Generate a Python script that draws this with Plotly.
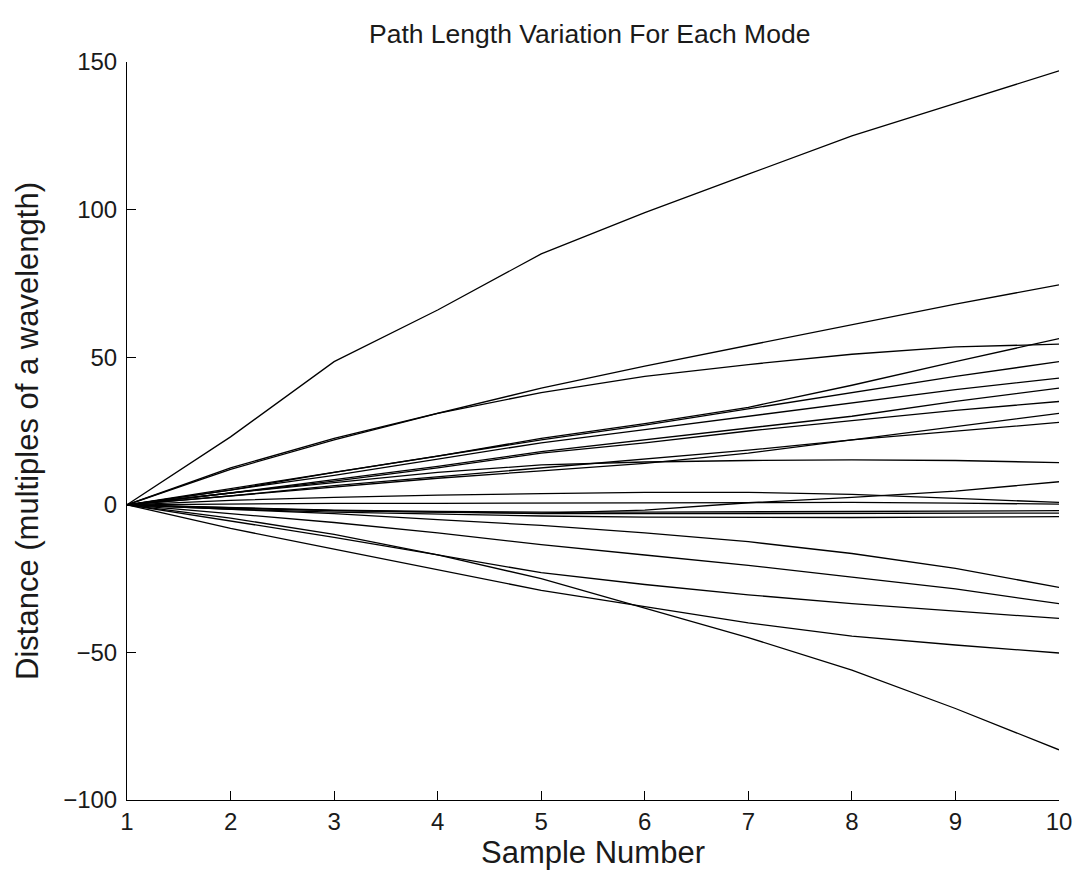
import plotly.graph_objects as go

samples = [1, 2, 3, 4, 5, 6, 7, 8, 9, 10]

mode_A = [0, 23, 48.5, 66, 85, 99, 112, 125, 136, 147]
mode_B = [0, 12.5, 22.5, 31, 39.5, 47, 54, 61, 68, 74.5]
mode_C = [0, 12, 22, 31, 38, 43.5, 47.5, 51, 53.5, 54.4]
mode_D = [0, 5, 11, 16.5, 22.5, 27.5, 33, 40.5, 48.5, 56.3]
mode_E = [0, 5.5, 11, 16.5, 22, 27, 32.5, 38, 43.5, 48.5]
mode_F = [0, 5, 10, 15.5, 21, 25.5, 30, 34.5, 39, 42.9]
mode_G = [0, 4, 8.5, 13, 18, 22, 26, 30, 35, 39.5]
mode_H = [0, 4, 8, 12.5, 17.5, 21, 25, 28.5, 32, 35]
mode_I = [0, 3, 6, 9, 11.5, 14, 17.5, 22, 26.5, 31]
mode_J = [0, 3, 6.5, 9.5, 12.5, 15.5, 18.5, 22, 25, 27.9]
mode_K = [0, 4, 7.5, 11, 13.5, 14.5, 15, 15.2, 15, 14.3]
mode_L = [0, 1.5, 2.5, 3.3, 3.8, 4.2, 4.2, 3.5, 2.2, 0.8]
mode_M = [0, 0.3, 0.5, 0.5, 0.6, 0.6, 0.8, 0.8, 0.6, 0.2]
mode_R = [0, -1, -2, -2.5, -2.8, -1.8, 0.7, 2.5, 4.6, 7.8]
mode_B1 = [0, -1, -1.8, -2.2, -2.5, -2.5, -2.4, -2.2, -2.1, -2.0]
mode_B2 = [0, -1.2, -2, -2.6, -3, -3, -3, -2.9, -2.8, -2.8]
mode_B3 = [0, -1.5, -2.5, -3.2, -3.8, -4.2, -4.3, -4.3, -4.2, -4.0]
mode_N = [0, -1.5, -3, -5, -7, -9.5, -12.5, -16.5, -21.5, -28]
mode_O = [0, -3, -6, -9.5, -13.5, -17, -20.5, -24.5, -28.5, -33.5]
mode_P = [0, -5.5, -11, -17, -23, -27, -30.5, -33.5, -36, -38.5]
mode_S = [0, -4.5, -10, -17, -25, -35, -45, -56, -69, -83]
mode_Q = [0, -8, -15, -22, -29, -34.5, -40, -44.5, -47.5, -50.2]

modes = [mode_A, mode_B, mode_C, mode_D, mode_E, mode_F, mode_G, mode_H,
         mode_I, mode_J, mode_K, mode_L, mode_M, mode_R, mode_B1, mode_B2,
         mode_B3, mode_N, mode_O, mode_P, mode_S, mode_Q]

x_ticks = [1, 2, 3, 4, 5, 6, 7, 8, 9, 10]
y_ticks = [-100, -50, 0, 50, 100, 150]

fig = go.Figure()
for m in modes:
    fig.add_trace(go.Scatter(x=samples, y=m, mode="lines",
                             line=dict(color="black", width=1.3),
                             showlegend=False))

font = "Liberation Sans, Arial, Helvetica, sans-serif"
fig.update_layout(
    width=1084, height=877,
    margin=dict(l=127, r=21, t=62, b=77),
    paper_bgcolor="white", plot_bgcolor="white",
    font=dict(family=font, size=24, color="#1a1a1a"),
    title=dict(text="Path Length Variation For Each Mode", x=0.544, xanchor="center",
               y=0.962, yanchor="middle", font=dict(size=26.5, family=font, color="#1a1a1a")),
)
fig.update_xaxes(range=[1, 10], tickvals=x_ticks, ticks="inside", ticklen=9,
                 tickcolor="black", showline=True, linecolor="black", linewidth=1,
                 showgrid=False, zeroline=False, tickfont=dict(size=24),
                 title=dict(text="Sample Number", standoff=7, font=dict(size=31)))
fig.update_yaxes(range=[-100, 150], tickvals=y_ticks, ticks="inside", ticklen=9,
                 tickcolor="black", showline=True, linecolor="black", linewidth=1,
                 showgrid=False, zeroline=False, tickfont=dict(size=24),
                 ticklabelstandoff=4,
                 title=dict(text="Distance (multiples of a wavelength)", standoff=15,
                            font=dict(size=31)))

fig.write_html("out.html")
